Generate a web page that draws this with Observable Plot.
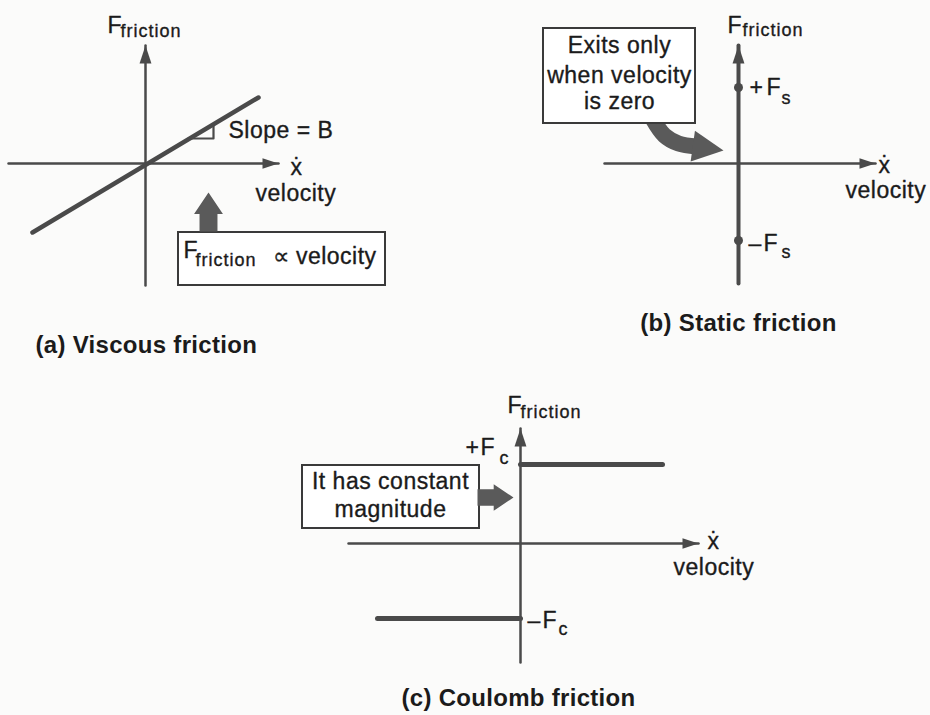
<!DOCTYPE html>
<html><head><meta charset="utf-8">
<script src="https://cdn.jsdelivr.net/npm/d3@7"></script>
<script src="https://cdn.jsdelivr.net/npm/@observablehq/plot@0.6"></script>
<style>
html,body{margin:0;padding:0;background:#fbfbfa;}
#chart{position:relative;width:930px;height:715px;overflow:hidden;}
#chart > svg{position:absolute;}
#chart g[font-size="23"] text{letter-spacing:0.5px;}
#chart g[font-size="18"] text{letter-spacing:1px;}
#chart g[font-weight="bold"] text{letter-spacing:0.3px;}
</style></head><body><div id="chart"></div>
<script>
// ---------- (a) Viscous friction ----------
const viscousVelocityExtent = [-1.37, 1.33];
const viscousForceExtent = [-1.22, 1.18];
const viscousLine = [{v:-1.13,f:-0.69},{v:1.13,f:0.66}];
const viscousSlopeMarker = [{v:0.43,f:0.25},{v:0.68,f:0.25},{v:0.68,f:0.39}];
const viscousBoxes = [{v1:0.33,v2:2.40,f1:-1.22,f2:-0.69}];
const viscousBlockArrows = [{v:0.63,f:-0.29,dir:0}];
const viscousLabels = [
  {v:-0.38,f:1.38,text:"F",kind:"main",anchor:"start"},
  {v:-0.25,f:1.32,text:"friction",kind:"sub",anchor:"start"},
  {v:0.83,f:0.33,text:"Slope = B",kind:"main",anchor:"start"},
  {v:1.51,f:-0.04,text:"ẋ",kind:"main",anchor:"middle"},
  {v:1.10,f:-0.30,text:"velocity",kind:"main",anchor:"start"},
  {v:0.38,f:-0.87,text:"F",kind:"main",anchor:"start"},
  {v:0.50,f:-0.97,text:"friction",kind:"sub",anchor:"start"},
  {v:1.27,f:-0.93,text:"∝ velocity",kind:"main",anchor:"start"},
  {v:-1.10,f:-1.82,text:"(a) Viscous friction",kind:"title",anchor:"start"}
];

// ---------- (b) Static friction ----------
const staticVelocityExtent = [-1.34, 1.37];
const staticForceExtent = [-1.20, 1.18];
const staticPoints = [{v:0,f:0.76},{v:0,f:-0.77}];
const staticBoxes = [{v1:-1.95,v2:-0.43,f1:0.40,f2:1.35}];
const staticPointerBody = [{v:-0.86,f:0.45},{v:-0.74,f:0.28},{v:-0.60,f:0.20},{v:-0.42,f:0.17}];
const staticPointerTip = [{v:-0.15,f:0.13}];
const staticLabels = [
  {v:-0.11,f:1.38,text:"F",kind:"main",anchor:"start"},
  {v:0.04,f:1.33,text:"friction",kind:"sub",anchor:"start"},
  {v:-1.19,f:1.18,text:"Exits only",kind:"main",anchor:"middle"},
  {v:-1.19,f:0.88,text:"when velocity",kind:"main",anchor:"middle"},
  {v:-1.19,f:0.62,text:"is zero",kind:"main",anchor:"middle"},
  {v:0.11,f:0.76,text:"+",kind:"main",anchor:"start"},
  {v:0.28,f:0.76,text:"F",kind:"main",anchor:"start"},
  {v:0.43,f:0.65,text:"s",kind:"sub",anchor:"start"},
  {v:0.10,f:-0.80,text:"–",kind:"main",anchor:"start"},
  {v:0.25,f:-0.80,text:"F",kind:"main",anchor:"start"},
  {v:0.43,f:-0.89,text:"s",kind:"sub",anchor:"start"},
  {v:1.46,f:-0.02,text:"ẋ",kind:"main",anchor:"middle"},
  {v:1.07,f:-0.27,text:"velocity",kind:"main",anchor:"start"},
  {v:0.00,f:-1.60,text:"(b) Static friction",kind:"title",anchor:"middle"}
];

// ---------- (c) Coulomb friction ----------
const coulombVelocityExtent = [-1.72, 1.78];
const coulombForceExtent = [-1.19, 1.15];
const coulombSteps = [
  {seg:"+Fc",v:0,f:0.79},{seg:"+Fc",v:1.42,f:0.79},
  {seg:"-Fc",v:-1.43,f:-0.75},{seg:"-Fc",v:0,f:-0.75}
];
const coulombBoxes = [{v1:-2.18,v2:-0.41,f1:0.15,f2:0.78}];
const coulombBlockArrows = [{v:-0.07,f:0.46,dir:90}];
const coulombLabels = [
  {v:-0.13,f:1.38,text:"F",kind:"main",anchor:"start"},
  {v:0.00,f:1.31,text:"friction",kind:"sub",anchor:"start"},
  {v:-0.55,f:0.96,text:"+",kind:"main",anchor:"start"},
  {v:-0.40,f:0.96,text:"F",kind:"main",anchor:"start"},
  {v:-0.21,f:0.85,text:"c",kind:"sub",anchor:"start"},
  {v:0.07,f:-0.77,text:"–",kind:"main",anchor:"start"},
  {v:0.22,f:-0.77,text:"F",kind:"main",anchor:"start"},
  {v:0.38,f:-0.86,text:"c",kind:"sub",anchor:"start"},
  {v:-1.30,f:0.62,text:"It has constant",kind:"main",anchor:"middle"},
  {v:-1.30,f:0.34,text:"magnitude",kind:"main",anchor:"middle"},
  {v:1.93,f:0.02,text:"ẋ",kind:"main",anchor:"middle"},
  {v:1.53,f:-0.24,text:"velocity",kind:"main",anchor:"start"},
  {v:-0.02,f:-1.55,text:"(c) Coulomb friction",kind:"title",anchor:"middle"}
];

// ---------- styling ----------
const LINE = "#4a4a4a", TEXT = "#1b1b1b", BOXSTROKE = "#3a3a3a", FILL = "#5a5a5a";
const FONT = "Liberation Sans, Arial, sans-serif";
const KIND = {
  main: {fontSize: 23, fontWeight: "normal", stroke: TEXT, strokeWidth: 0.35},
  sub: {fontSize: 18, fontWeight: "normal", stroke: TEXT, strokeWidth: 0.35},
  title: {fontSize: 24, fontWeight: "bold"}
};
// arrowhead symbol, tip at origin, pointing up
function triangle(half) {
  return {draw(ctx, size) {
    const r = Math.sqrt(size / Math.PI);
    ctx.moveTo(0, 0); ctx.lineTo(half * r, r); ctx.lineTo(-half * r, r); ctx.closePath();
  }};
}
const axisHead = triangle(0.33);
const bigHead = triangle(0.5);
const blockArrow = {draw(ctx, size) {
  const r = Math.sqrt(size / Math.PI);
  const hl = 0.55 * r, hw = 0.37 * r, sw = 0.23 * r;
  ctx.moveTo(0, 0); ctx.lineTo(hw, hl); ctx.lineTo(sw, hl); ctx.lineTo(sw, r);
  ctx.lineTo(-sw, r); ctx.lineTo(-sw, hl); ctx.lineTo(-hw, hl); ctx.closePath();
}};

function axesMarks(vExt, fExt, vWidth, fWidth) {
  return [
    Plot.line([{v:vExt[0],f:0},{v:vExt[1],f:0}], {x:"v", y:"f", stroke:LINE, strokeWidth:vWidth}),
    Plot.line([{v:0,f:fExt[0]},{v:0,f:fExt[1]}], {x:"v", y:"f", stroke:LINE, strokeWidth:fWidth}),
    Plot.dot([{v:vExt[1],f:0}], {x:"v", y:"f", symbol:axisHead, r:16, rotate:90, fill:LINE, stroke:"none"}),
    Plot.dot([{v:0,f:fExt[1]}], {x:"v", y:"f", symbol:axisHead, r:18, rotate:0, fill:LINE, stroke:"none"})
  ];
}
function boxMarks(boxes) {
  return Plot.rect(boxes, {x1:"v1", x2:"v2", y1:"f1", y2:"f2", fill:"#ffffff", stroke:BOXSTROKE, strokeWidth:2});
}
function labelMarks(labels) {
  const marks = [];
  for (const kind of Object.keys(KIND)) for (const anchor of ["start","middle"]) {
    const d = labels.filter(l => l.kind === kind && l.anchor === anchor);
    if (!d.length) continue;
    marks.push(Plot.text(d, {x:"v", y:"f", text:"text", textAnchor:anchor, lineAnchor:"middle",
      fontFamily:FONT, fill:TEXT, ...KIND[kind]}));
  }
  return marks;
}
function panel(left, top, width, height, vDomain, fDomain, marks) {
  const svg = Plot.plot({
    width, height, marginTop:0, marginRight:0, marginBottom:0, marginLeft:0,
    x:{domain:vDomain, axis:null}, y:{domain:fDomain, axis:null},
    style:{background:"transparent", overflow:"visible"},
    marks
  });
  svg.style.left = left + "px"; svg.style.top = top + "px";
  document.getElementById("chart").appendChild(svg);
}

// (a)
panel(0, 0, 400, 370, [-1.45, 2.55], [-2.07, 1.63], [
  ...axesMarks(viscousVelocityExtent, viscousForceExtent, 2.5, 2.5),
  Plot.line(viscousSlopeMarker, {x:"v", y:"f", stroke:LINE, strokeWidth:2.2}),
  Plot.line(viscousLine, {x:"v", y:"f", stroke:LINE, strokeWidth:4.5}),
  boxMarks(viscousBoxes),
  Plot.dot(viscousBlockArrows, {x:"v", y:"f", symbol:blockArrow, r:39, rotate:"dir", fill:FILL, stroke:"none"}),
  ...labelMarks(viscousLabels)
]);

// (b)
panel(520, 0, 410, 345, [-2.18, 1.92], [-1.82, 1.63], [
  ...axesMarks(staticVelocityExtent, staticForceExtent, 2.5, 4),
  Plot.dot(staticPoints, {x:"v", y:"f", r:4.5, fill:LINE, stroke:"none"}),
  Plot.line(staticPointerBody, {x:"v", y:"f", curve:"catmull-rom", stroke:FILL, strokeWidth:16}),
  Plot.dot(staticPointerTip, {x:"v", y:"f", symbol:bigHead, r:31, rotate:98, fill:FILL, stroke:"none"}),
  boxMarks(staticBoxes),
  ...labelMarks(staticLabels)
]);

// (c)
panel(280, 380, 480, 335, [-2.40, 2.40], [-1.72, 1.63], [
  ...axesMarks(coulombVelocityExtent, coulombForceExtent, 2.5, 2.5),
  Plot.line(coulombSteps, {x:"v", y:"f", z:"seg", stroke:LINE, strokeWidth:5}),
  boxMarks(coulombBoxes),
  Plot.dot(coulombBlockArrows, {x:"v", y:"f", symbol:blockArrow, r:36, rotate:"dir", fill:FILL, stroke:"none"}),
  ...labelMarks(coulombLabels)
]);
</script></body></html>
